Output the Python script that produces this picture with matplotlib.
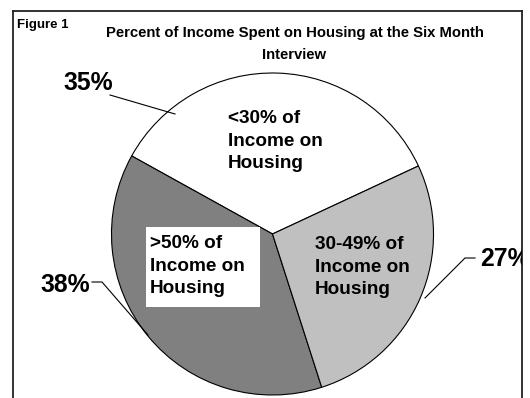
import matplotlib
matplotlib.use("Agg")
import matplotlib.pyplot as plt
from matplotlib.patches import Rectangle

plt.rcParams["font.family"] = ["Liberation Sans", "DejaVu Sans"]
plt.rcParams["font.weight"] = "bold"

categories = ["<30% of\nIncome on\nHousing", ">50% of\nIncome on\nHousing",
              "30-49% of\nIncome on\nHousing"]
shares = [35, 38, 27]
colors = ["#ffffff", "#808080", "#c0c0c0"]

W, H = 530, 398


def px(x, y):
    # pixel position (origin top-left) -> data coords (y up)
    return x, H - y


fig = plt.figure(figsize=(W / 100, H / 100), dpi=100)
# frame box runs off the bottom of the figure
left, right, top, bottom = 13, 522, 11, 418
ax = fig.add_axes([left / W, 1 - bottom / H, (right - left) / W, (bottom - top) / H])

wedges, _ = ax.pie(shares, colors=colors, startangle=25, counterclock=True,
                   center=px(272.5, 234), radius=161, frame=True,
                   wedgeprops=dict(edgecolor="black", linewidth=0.8))
ax.set_aspect("auto")
ax.set_xlim(left, right)
ax.set_ylim(H - bottom, H - top)
ax.set_xticks([]); ax.set_yticks([])
for s in ax.spines.values():
    s.set_linewidth(1.3); s.set_color("#222222")

# titles
ax.text(*px(17, 28), "Figure 1", fontsize=9.5, ha="left", va="baseline")
ax.text(*px(294.5, 37.5), "Percent of Income Spent on Housing at the Six Month",
        fontsize=10.7, ha="center", va="baseline")
ax.text(*px(294.5, 59), "Interview", fontsize=10.7, ha="center", va="baseline")

# white backing box behind the dark-slice label
bx0, by0 = px(146, 307)
ax.add_patch(Rectangle((bx0, by0), 114, 80, facecolor="white", edgecolor="none", zorder=3))

# (left x, baseline of last line)
label_pos = [(228, 168), (150, 293), (315, 294)]
for txt, (x, y) in zip(categories, label_pos):
    ax.text(*px(x, y), txt, fontsize=13.7, ha="left", va="baseline",
            linespacing=1.42, zorder=4)

# percentage callouts with leader lines
pct_pos = [(63, 90), (40, 292), (480, 266)]
leaders = [[(110, 95), (175, 114)],
           [(92, 282), (102, 282), (148, 335)],
           [(475, 258), (465, 258), (425, 298)]]
for v, (x, y), pts in zip(shares, pct_pos, leaders):
    ax.text(*px(x, y), f"{v}%", fontsize=17.8, ha="left", va="baseline",
            clip_on=True, zorder=5)
    xs, ys = zip(*[px(a, b) for a, b in pts])
    ax.plot(xs, ys, color="black", lw=0.8, zorder=5)

fig.savefig("out.png", dpi=100)
